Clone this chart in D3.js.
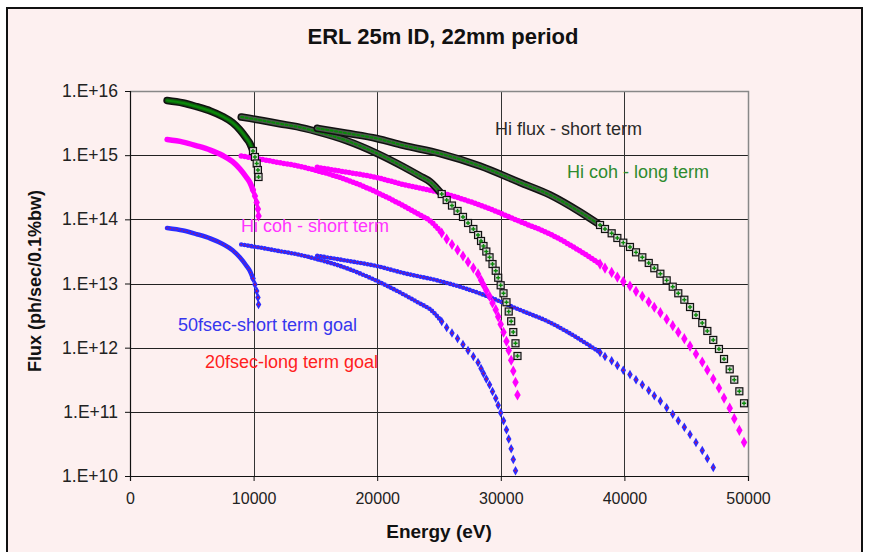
<!DOCTYPE html>
<html>
<head>
<meta charset="utf-8">
<script src="https://cdn.jsdelivr.net/npm/d3@7"></script>
<style>
  body { margin: 0; background: #fff; }
  text { font-family: "Liberation Sans", Arial, Helvetica, sans-serif; }
</style>
</head>
<body>
<svg id="chart" width="871" height="552"></svg>
<script>
// axis ticks
const xTicks = [0, 10000, 20000, 30000, 40000, 50000];
const yTicks = [1e10, 1e11, 1e12, 1e13, 1e14, 1e15, 1e16];

// 1st harmonic, energies (eV) of the plotted points
const energyH1 = [3000, 4300, 5400, 6500, 7500, 8300, 8900, 9400, 9700, 9950, 10110, 10250, 10350, 10400];
const hiFluxH1 = [7.11e15, 6.50e15, 5.69e15, 4.88e15, 4.00e15, 3.21e15, 2.47e15, 1.85e15, 1.52e15, 1.16e15, 9.37e14, 7.42e14, 5.87e14, 4.57e14];
const cohShortH1 = [1.75e15, 1.60e15, 1.40e15, 1.20e15, 9.88e14, 7.91e14, 6.08e14, 4.57e14, 3.75e14, 2.86e14, 2.31e14, 1.83e14, 1.45e14, 1.13e14];
const goalH1 = [7.33e13, 6.70e13, 5.87e13, 5.03e13, 4.13e13, 3.30e13, 2.54e13, 1.91e13, 1.57e13, 1.20e13, 9.65e12, 7.64e12, 6.05e12, 4.71e12];

// 3rd harmonic
const energyH3 = [9000, 10800, 12100, 13500, 15150, 17530, 19960, 22110, 23460, 24270,
  25220, 25620, 26050, 26500, 26940, 27350, 27780, 28160, 28400, 28600, 28830, 29090,
  29330, 29590, 29790, 29990, 30220, 30460, 30640, 30840, 31010, 31190, 31350];
const hiFluxH3 = [3.93e15, 3.44e15, 3.09e15, 2.78e15, 2.32e15, 1.68e15, 1.07e15, 6.61e14, 4.74e14, 3.86e14,
  2.48e14, 2.00e14, 1.64e14, 1.35e14, 1.09e14, 8.77e13, 7.07e13, 5.70e13, 4.60e13, 3.84e13, 3.15e13, 2.56e13,
  2.01e13, 1.58e13, 1.23e13, 9.38e12, 7.04e12, 5.10e12, 3.66e12, 2.58e12, 1.75e12, 1.17e12, 7.42e11];
const cohShortH3 = [9.70e14, 8.49e14, 7.63e14, 6.85e14, 5.72e14, 4.14e14, 2.64e14, 1.63e14, 1.17e14, 9.52e13,
  6.12e13, 4.94e13, 4.05e13, 3.33e13, 2.68e13, 2.16e13, 1.74e13, 1.41e13, 1.13e13, 9.47e12, 7.78e12, 6.32e12,
  4.97e12, 3.91e12, 3.04e12, 2.31e12, 1.74e12, 1.26e12, 9.03e11, 6.36e11, 4.33e11, 2.89e11, 1.83e11];
const goalH3 = [4.05e13, 3.55e13, 3.19e13, 2.86e13, 2.39e13, 1.73e13, 1.10e13, 6.81e12, 4.88e12, 3.98e12,
  2.56e12, 2.06e12, 1.69e12, 1.39e12, 1.12e12, 9.04e11, 7.29e11, 5.87e11, 4.74e11, 3.96e11, 3.25e11, 2.64e11,
  2.07e11, 1.63e11, 1.27e11, 9.66e10, 7.25e10, 5.25e10, 3.77e10, 2.66e10, 1.81e10, 1.21e10];

// 5th harmonic
const energyH5 = [15150, 17530, 19960, 22110, 25080, 28320, 31550, 33980, 36410,
  38030, 38430, 38970, 39430, 39910, 40450, 40940, 41450, 41970, 42420, 42910, 43420, 43910,
  44360, 44850, 45310, 45790, 46300, 46710, 47190, 47650, 48060, 48520, 48890, 49300, 49680];
const hiFluxH5 = [2.62e15, 2.20e15, 1.82e15, 1.42e15, 1.06e15, 6.78e14, 3.75e14, 2.40e14, 1.30e14,
  8.16e13, 7.07e13, 6.06e13, 5.12e13, 4.33e13, 3.71e13, 3.06e13, 2.56e13, 2.09e13, 1.73e13, 1.42e13, 1.12e13, 8.92e12,
  7.04e12, 5.59e12, 4.30e12, 3.23e12, 2.42e12, 1.82e12, 1.32e12, 9.54e11, 6.66e11, 4.60e11, 3.17e11, 2.09e11, 1.36e11];
const cohShortH5 = [6.47e14, 5.43e14, 4.48e14, 3.49e14, 2.62e14, 1.67e14, 9.25e13, 5.90e13, 3.21e13,
  2.01e13, 1.74e13, 1.49e13, 1.26e13, 1.07e13, 9.14e12, 7.55e12, 6.32e12, 5.15e12, 4.26e12, 3.51e12, 2.77e12, 2.20e12,
  1.74e12, 1.38e12, 1.06e12, 7.97e11, 5.98e11, 4.49e11, 3.25e11, 2.35e11, 1.64e11, 1.14e11, 7.82e10, 5.15e10, 3.35e10];
const goalH5 = [2.70e13, 2.27e13, 1.87e13, 1.46e13, 1.09e13, 6.99e12, 3.87e12, 2.47e12, 1.34e12,
  8.41e11, 7.29e11, 6.24e11, 5.28e11, 4.46e11, 3.82e11, 3.16e11, 2.64e11, 2.15e11, 1.78e11, 1.47e11, 1.16e11, 9.19e10,
  7.25e10, 5.76e10, 4.44e10, 3.33e10, 2.50e10, 1.87e10, 1.36e10];

// the long-term series sit on exactly the same points as their short-term partners
const hiCohLongH1 = hiFluxH1, hiCohLongH3 = hiFluxH3, hiCohLongH5 = hiFluxH5;
const goal20H1 = goalH1, goal20H3 = goalH3, goal20H5 = goalH5;

// index where the markers stop overlapping (dense band before, separate markers after)
const tailFrom = { h1: 9, h3: 10, h5: 9 };

const seriesLabels = ["Hi flux - short term", "Hi coh - long term", "Hi coh - short term",
  "50fsec-short term goal", "20fsec-long term goal"];

const svg = d3.select("#chart");
const plot = { left: 130, right: 748, top: 91, bottom: 476 };

const x = d3.scaleLinear().domain([0, 50000]).range([plot.left, plot.right]);
const y = d3.scaleLog().domain([1e10, 1e16]).range([plot.bottom, plot.top]);

// frame
svg.append("rect").attr("x", 7).attr("y", 8).attr("width", 855).attr("height", 560)
  .attr("fill", "#fdf0f0").attr("stroke", "#111").attr("stroke-width", 2);

svg.append("text").attr("x", 443).attr("y", 44).attr("text-anchor", "middle")
  .attr("font-size", 22).attr("font-weight", "bold").attr("fill", "#111")
  .text("ERL 25m ID, 22mm period");

// grid
const grid = svg.append("g");
grid.selectAll(".hg").data(yTicks.slice(1, -1)).join("line")
  .attr("x1", plot.left).attr("x2", plot.right)
  .attr("y1", d => Math.round(y(d)) + 0.5).attr("y2", d => Math.round(y(d)) + 0.5)
  .attr("stroke", "#222").attr("stroke-width", 1);
grid.selectAll(".vg").data(xTicks.slice(1, -1)).join("line")
  .attr("x1", d => Math.round(x(d)) + 0.5).attr("x2", d => Math.round(x(d)) + 0.5)
  .attr("y1", plot.top).attr("y2", plot.bottom)
  .attr("stroke", "#333").attr("stroke-width", 1);
// plot border top/right
grid.append("path")
  .attr("d", `M${plot.left},${plot.top + 0.5}H${plot.right + 0.5}V${plot.bottom}`)
  .attr("fill", "none").attr("stroke", "#888").attr("stroke-width", 1.5);

// axes
const yAxis = svg.append("g").attr("transform", `translate(${plot.left},0)`)
  .call(d3.axisLeft(y).tickValues(yTicks).tickFormat(d => "1.E+" + Math.round(Math.log10(d)))
    .tickSize(5).tickPadding(7));
const xAxis = svg.append("g").attr("transform", `translate(0,${plot.bottom})`)
  .call(d3.axisBottom(x).tickValues(xTicks).tickFormat(d3.format("d")).tickSize(5).tickPadding(12));
[xAxis, yAxis].forEach(a => {
  a.select(".domain").attr("stroke", "#111").attr("stroke-width", 1.2);
  a.selectAll(".tick line").attr("stroke", "#111");
  a.selectAll(".tick text").attr("font-size", 16).attr("fill", "#222")
    .style("font-family", '"Liberation Sans", Arial, sans-serif');
});
yAxis.selectAll(".tick text").attr("font-size", 17.5);

svg.append("text").attr("x", 439).attr("y", 538).attr("text-anchor", "middle")
  .attr("font-size", 19).attr("font-weight", "bold").attr("fill", "#111").text("Energy (eV)");
svg.append("text").attr("transform", "translate(41,281) rotate(-90)").attr("text-anchor", "middle")
  .attr("font-size", 18).attr("font-weight", "bold").attr("fill", "#111").text("Flux (ph/sec/0.1%bw)");

// series
svg.append("clipPath").attr("id", "plotclip").append("rect")
  .attr("x", plot.left).attr("y", plot.top - 10).attr("width", plot.right - plot.left + 10)
  .attr("height", plot.bottom - plot.top + 10);
const layer = svg.append("g").attr("clip-path", "url(#plotclip)");
const line = d3.line().x(d => x(d[0])).y(d => y(d[1])).curve(d3.curveMonotoneX);
const pts = (energy, flux) => flux.map((f, i) => [energy[i], f]);

const harmonics = [
  { e: energyH1, k: "h1" },
  { e: energyH3, k: "h3" },
  { e: energyH5, k: "h5" }
];

// dense run of overlapping markers drawn as a (beaded) stroke
function band(g, p, cut, color, width, dash) {
  const path = g.append("path").datum(p.slice(0, Math.min(cut + 1, p.length)))
    .attr("d", line).attr("fill", "none").attr("stroke", color)
    .attr("stroke-width", width).attr("stroke-linecap", "round").attr("stroke-linejoin", "round");
  if (dash) path.attr("stroke-dasharray", dash);
}

// 50fsec (blue) with 20fsec (red) on top
[goalH1, goalH3, goalH5].forEach((flux, hi) => {
  const h = harmonics[hi], p = pts(h.e, flux), cut = tailFrom[h.k];
  const g = layer.append("g");
  band(g, p, cut, "#2b2bff", 4.6, hi === 0 ? null : "0,3.4");
  band(g, p, cut, "#c8104a", 1.3, "0,3.4");
  g.selectAll(".b").data(p.slice(cut)).join("path")
    .attr("transform", d => `translate(${x(d[0])},${y(d[1])})`)
    .attr("d", d3.symbol(d3.symbolDiamond, 26)).attr("fill", "#2b2bff");
  const red = [goal20H1, goal20H3, goal20H5][hi];
  g.selectAll(".r").data(pts(h.e, red).slice(cut)).join("circle")
    .attr("cx", d => x(d[0])).attr("cy", d => y(d[1])).attr("r", 0.9).attr("fill", "#c8104a");
});

// Hi coh short term (magenta)
[cohShortH1, cohShortH3, cohShortH5].forEach((flux, hi) => {
  const h = harmonics[hi], p = pts(h.e, flux), cut = tailFrom[h.k];
  const g = layer.append("g");
  band(g, p, cut, "#ff00ff", 5.5, hi === 0 ? null : "0,3.6");
  g.selectAll("path.m").data(p.slice(cut)).join("path").attr("class", "m")
    .attr("transform", d => `translate(${x(d[0])},${y(d[1])})`)
    .attr("d", d3.symbol(d3.symbolDiamond, 36)).attr("fill", "#ff00ff");
});

// Hi flux (black squares) with Hi coh long term (green) on top
[hiFluxH1, hiFluxH3, hiFluxH5].forEach((flux, hi) => {
  const h = harmonics[hi], p = pts(h.e, flux), cut = tailFrom[h.k];
  const g = layer.append("g");
  band(g, p, cut, "#111", 7.5);
  band(g, p, cut, hi === 0 ? "#0e5a0e" : "#4a5a4a", 4.5);
  band(g, p, cut, "#0a8a0a", 2, hi === 0 ? null : "2,2.5");
  g.selectAll("rect").data(p.slice(cut)).join("rect")
    .attr("x", d => x(d[0]) - 3.5).attr("y", d => y(d[1]) - 3.5)
    .attr("width", 7).attr("height", 7)
    .attr("fill", "#d8d4d4").attr("stroke", "#111").attr("stroke-width", 1.2);
  const green = [hiCohLongH1, hiCohLongH3, hiCohLongH5][hi];
  g.selectAll("path.c").data(pts(h.e, green).slice(cut)).join("path").attr("class", "c")
    .attr("transform", d => `translate(${x(d[0])},${y(d[1])})`)
    .attr("d", d3.symbol(d3.symbolCross, 10)).attr("fill", "#0a8a0a");
});

// series labels
const labelPos = [
  { x: 495, y: 135, color: "#2a2a2a" },
  { x: 567, y: 178, color: "#2e8b2e" },
  { x: 241, y: 232, color: "#ff33ff" },
  { x: 178, y: 331, color: "#3636ee" },
  { x: 205, y: 368, color: "#ff2020" }
];
svg.append("g").selectAll("text").data(seriesLabels).join("text")
  .attr("x", (d, i) => labelPos[i].x).attr("y", (d, i) => labelPos[i].y)
  .attr("font-size", 18).attr("fill", (d, i) => labelPos[i].color).text(d => d);
</script>
</body>
</html>
